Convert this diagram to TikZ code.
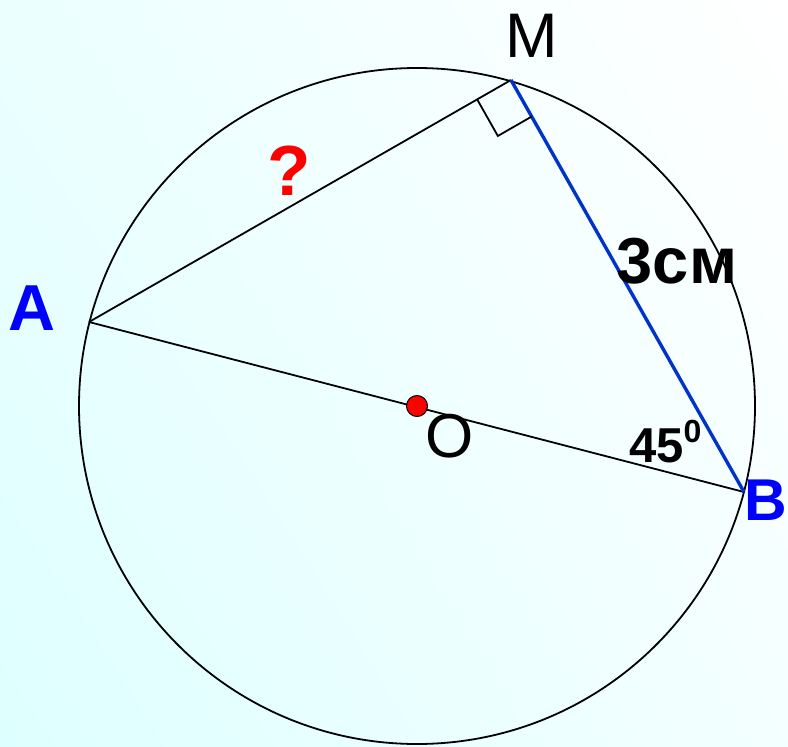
\documentclass[tikz,border=0pt]{standalone}
\usepackage{fontspec}
\setmainfont{Liberation Sans}
\usetikzlibrary{calc,shadings}
\definecolor{segblue}{RGB}{0,51,204}
\definecolor{lblblue}{RGB}{0,0,255}
\definecolor{bgcyan}{RGB}{222,255,255}
\tikzset{
  thinline/.style={line width=1.8pt, black},
  blueline/.style={line width=3.4pt, segblue},
  lbl/.style={inner sep=0pt, anchor=base},
}
\newcommand{\fsz}[1]{\fontsize{#1}{#1}\selectfont}
\begin{document}
\begin{tikzpicture}[x=1pt,y=-1pt]
\useasboundingbox (0,0) rectangle (788,747);
\shade[upper left=bgcyan!60!white, upper right=white, lower left=bgcyan, lower right=bgcyan!35!white] (0,0) rectangle (788,747);
\coordinate (O) at (417,406);
\coordinate (A) at (89,322);
\coordinate (B) at (744,492);
\coordinate (M) at (511,80);
\draw[thinline] (O) circle (338);
\draw[thinline] (A) -- (M);
\draw[thinline] (A) -- (B);
\draw[blueline] (M) -- (B);
\coordinate (p1) at ($(M)!39pt!(A)$);
\coordinate (p2) at ($(M)!42pt!(B)$);
\draw[line width=1.8pt] (p1) -- ($(p1)+(p2)-(M)$) -- (p2);
\node[circle, fill=red, draw=black, line width=1pt, minimum size=21pt, inner sep=0pt] (dot) at (O) {};
\node[lbl] (lM) at (532,57) {\fsz{63}M};
\node[lbl, text=lblblue] (lA) at (32,330) {\fsz{65}\bfseries A};
\node[lbl, text=lblblue] (lB) at (766,520) {\fsz{59}\bfseries B};
\node[lbl] (lO) at (450,457) {\fsz{62}O};
\node[lbl] (l3) at (677,283) {\fsz{65}\bfseries 3см};
\node[lbl, text=red] (lq) at (289,195) {\fsz{71}\bfseries ?};
\node[lbl, anchor=base west] (l45) at (629,462) {\fsz{49}\bfseries 45\raisebox{20pt}{\fsz{32}0}};
\end{tikzpicture}
\end{document}
